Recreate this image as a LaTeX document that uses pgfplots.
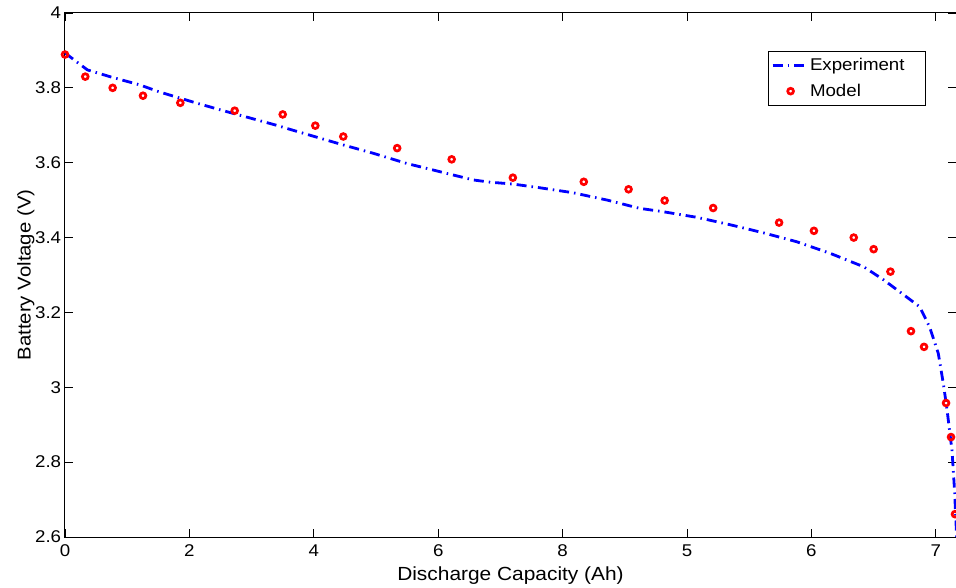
\documentclass[border=0pt]{standalone}
\usepackage{fontspec}
\setmainfont{Liberation Sans}[FakeStretch=1.1]
\usepackage{pgfplots}
\pgfplotsset{compat=1.18}
\pgfplotsset{
  explegend/.style={legend image code/.code={\draw[##1] (0bp,0bp) -- (34bp,0bp);}},
  modlegend/.style={legend image code/.code={\draw[mark repeat=2,mark phase=2,##1] plot coordinates {(0bp,0bp) (18bp,0bp) (36bp,0bp)};}},
}
\begin{document}
\fontsize{17bp}{20bp}\selectfont
\begin{tikzpicture}
\begin{axis}[
  name=ax,
  scale only axis,
  width=891bp, height=524bp,
  xmin=0, xmax=7.162, ymin=2.6, ymax=4,
  xtick={0,1,2,3,4,5,6,7},
  xticklabels={0,2,4,6,8,5,6,7},
  ytick={2.6,2.8,3,3.2,3.4,3.6,3.8,4},
  yticklabels={2.6,2.8,3,3.2,3.4,3.6,3.8,4},
  /pgf/number format/assume math mode=true,
  tick align=inside,
  major tick length=8bp,
  axis line style={line width=1bp},
  every tick/.style={black, line width=0.8bp},
  every tick label/.append style={font=\fontsize{17bp}{20bp}\selectfont},
  xticklabel style={yshift=-2bp},
  yticklabel style={xshift=2bp},
  every axis x label/.style={at={(axis description cs:0.5,-0.0821)},anchor=base,font=\fontsize{19bp}{22bp}\selectfont},
  every axis y label/.style={at={(axis description cs:-0.0385,0.5)},rotate=90,anchor=base,font=\fontsize{18.5bp}{22bp}\selectfont},
  xlabel={Discharge Capacity (Ah)},
  ylabel={Battery Voltage (V)},
  legend style={at={(axis description cs:0.9663,0.9275)}, anchor=north east,
    draw=black, line width=0.8bp, inner xsep=3bp, inner ysep=4.5bp, row sep=7bp,
    font=\fontsize{17bp}{20bp}\selectfont},
  legend cell align=left,
  clip=true,
]
\addplot[color={rgb,1:red,0;green,0;blue,1}, line width=2.8bp,
  dash pattern=on 10bp off 5bp on 1.5bp off 5bp, explegend]
coordinates {
(0,3.893) (0.18,3.848) (0.36,3.83) (0.6,3.808) (0.76,3.789) (1.03,3.762)
(1.25,3.741) (1.46,3.722) (1.70,3.70) (1.83,3.687) (2.21,3.650) (2.48,3.625)
(2.747,3.598) (3.014,3.576) (3.28,3.554) (3.416,3.548) (3.60,3.543)
(3.818,3.533) (4.08,3.52) (4.36,3.50) (4.62,3.478) (4.81,3.469) (5.08,3.454)
(5.35,3.434) (5.61,3.413) (5.88,3.389) (6.15,3.358) (6.42,3.322) (6.58,3.287)
(6.75,3.245) (6.87,3.215) (6.95,3.161) (7.02,3.09) (7.06,3.01) (7.09,2.94)
(7.13,2.83) (7.15,2.726) (7.17,2.58)
};
\addlegendentry{Experiment\hspace*{16bp}}
\addplot[only marks, color={rgb,1:red,1;green,0;blue,0}, mark=o, mark size=2.9bp,
  mark options={line width=2.7bp, solid}, modlegend]
coordinates {
(0,3.889) (0.163,3.83) (0.383,3.80) (0.627,3.779) (0.927,3.76) (1.364,3.739)
(1.75,3.729) (2.012,3.699) (2.237,3.67) (2.67,3.639) (3.108,3.609) (3.60,3.56)
(4.17,3.549) (4.53,3.529) (4.82,3.499) (5.21,3.479) (5.74,3.44) (6.02,3.418)
(6.34,3.40) (6.50,3.369) (6.635,3.309) (6.80,3.15) (6.905,3.108) (7.082,2.958)
(7.122,2.867) (7.154,2.661)
};
\addlegendentry{Model}
\end{axis}
\pgfresetboundingbox
\path[use as bounding box] ([shift={(-65bp,-51bp)}]ax.south west) rectangle ([shift={(0bp,13bp)}]ax.north east);
\end{tikzpicture}
\end{document}
